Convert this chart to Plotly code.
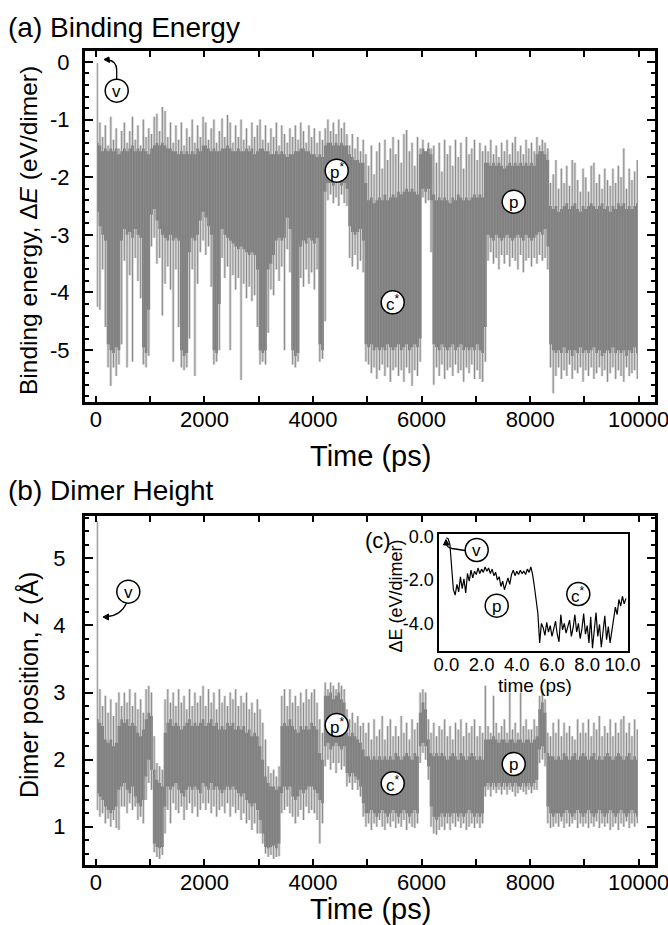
import plotly.graph_objects as go

W, H = 668, 925
FONT = "Liberation Sans, Arial, Helvetica, sans-serif"
TRACE_GRAY = "rgb(128,128,128)"
SPIKE_GRAY = "rgb(140,140,140)"
HAZE_GRAY = "rgba(128,128,128,0.33)"

# Sampling times of the 10 ns run (ps), one envelope value per 50 ps window
T_PS = list(range(25, 10000, 50))

# (a) binding energy, eV/dimer: spike extremes and dense band per window
BE_SPIKE_HI = [
    -0.02, -1.05, -1.30, -1.10, -1.45, -0.95, -1.35, -1.15, -1.50, -1.20,
    -1.05, -1.40, -1.20, -0.95, -1.35, -1.10, -1.45, -1.00, -1.30, -1.15,
    -1.25, -0.95, -0.90, -1.20, -0.78, -0.85, -1.30, -1.05, -1.40, -1.10,
    -1.35, -1.05, -1.45, -1.15, -1.30, -1.00, -1.40, -1.10, -1.30, -0.95,
    -1.05, -1.35, -1.15, -1.00, -1.40, -1.20, -0.98, -1.30, -0.92, -1.05,
    -1.40, -1.10, -1.30, -1.00, -1.35, -1.15, -1.45, -1.05, -1.30, -1.10,
    -1.00, -1.35, -1.10, -1.40, -1.15, -1.30, -1.05, -1.45, -1.10, -1.25,
    -1.40, -1.15, -1.30, -1.10, -1.35, -1.05, -1.20, -1.40, -1.10, -1.30,
    -1.15, -1.40, -1.20, -1.35, -1.15, -1.00, -1.20, -1.05, -1.25, -1.00,
    -1.15, -1.05, -1.25, -1.45, -1.25, -1.50, -1.30, -1.55, -1.35, -1.60,
    -1.80, -1.45, -1.95, -1.55, -1.40, -1.85, -1.35, -1.70, -1.50, -1.30,
    -1.60, -1.35, -1.75, -1.25, -1.18, -1.55, -1.40, -1.80, -1.30, -1.50,
    -1.35, -1.55, -1.40, -1.50, -1.45, -1.75, -1.40, -1.90, -1.35, -1.60,
    -1.45, -1.80, -1.35, -1.65, -1.40, -1.85, -1.30, -1.60, -1.50, -1.35,
    -1.70, -1.40, -1.55, -1.45, -1.55, -1.35, -1.60, -1.45, -1.65, -1.40,
    -1.55, -1.35, -1.60, -1.40, -1.30, -1.55, -1.45, -1.60, -1.35, -1.50,
    -1.40, -1.55, -1.30, -1.45, -1.35, -1.40, -1.50, -2.10, -1.95, -1.70,
    -2.20, -1.85, -2.10, -1.80, -2.15, -1.70, -1.75, -2.05, -2.25, -1.85,
    -2.00, -2.25, -1.80, -1.75, -2.10, -1.95, -2.20, -1.85, -2.05, -2.15,
    -1.85, -2.10, -1.80, -2.00, -1.50, -2.20, -1.85, -2.05, -1.90, -1.70,
]
BE_CORE_HI = [
    -1.40, -1.45, -1.55, -1.50, -1.55, -1.50, -1.55, -1.50, -1.60, -1.55,
    -1.50, -1.55, -1.50, -1.45, -1.55, -1.50, -1.55, -1.50, -1.55, -1.60,
    -1.50, -1.45, -1.40, -1.45, -1.40, -1.45, -1.50, -1.50, -1.55, -1.55,
    -1.60, -1.55, -1.60, -1.55, -1.60, -1.55, -1.60, -1.50, -1.55, -1.45,
    -1.45, -1.50, -1.55, -1.50, -1.55, -1.55, -1.50, -1.50, -1.45, -1.50,
    -1.55, -1.55, -1.50, -1.55, -1.55, -1.50, -1.55, -1.50, -1.60, -1.55,
    -1.50, -1.50, -1.55, -1.55, -1.60, -1.60, -1.55, -1.60, -1.55, -1.60,
    -1.65, -1.60, -1.60, -1.55, -1.55, -1.50, -1.50, -1.55, -1.55, -1.60,
    -1.60, -1.65, -1.60, -1.65, -1.45, -1.40, -1.40, -1.45, -1.40, -1.45,
    -1.40, -1.45, -1.45, -1.60, -1.65, -1.70, -1.70, -1.75, -1.75, -2.10,
    -2.40, -2.35, -2.45, -2.40, -2.35, -2.40, -2.30, -2.40, -2.35, -2.30,
    -2.35, -2.25, -2.30, -2.25, -2.20, -2.25, -2.20, -2.25, -2.30, -1.60,
    -1.50, -1.55, -1.50, -1.60, -2.30, -2.40, -2.35, -2.40, -2.35, -2.40,
    -2.45, -2.35, -2.40, -2.30, -2.35, -2.40, -2.35, -2.40, -2.35, -2.30,
    -2.35, -2.30, -2.35, -1.75, -1.75, -1.80, -1.75, -1.80, -1.75, -1.80,
    -1.85, -1.80, -1.75, -1.80, -1.75, -1.80, -1.75, -1.80, -1.75, -1.80,
    -1.75, -1.80, -1.60, -1.55, -1.55, -1.60, -1.70, -2.50, -2.55, -2.50,
    -2.60, -2.55, -2.50, -2.45, -2.55, -2.50, -2.45, -2.55, -2.60, -2.50,
    -2.55, -2.50, -2.45, -2.50, -2.55, -2.50, -2.45, -2.55, -2.50, -2.60,
    -2.50, -2.55, -2.45, -2.50, -2.45, -2.55, -2.50, -2.55, -2.50, -2.45,
]
BE_CORE_LO = [
    -2.60, -2.85, -3.00, -3.10, -4.90, -5.00, -5.05, -4.95, -5.00, -3.10,
    -2.90, -3.00, -2.95, -3.05, -2.90, -3.00, -3.05, -4.95, -5.05, -4.30,
    -2.65, -2.55, -2.75, -2.90, -3.00, -3.05, -3.10, -3.00, -3.10, -3.05,
    -3.10, -5.00, -5.10, -5.05, -3.30, -3.05, -3.10, -3.00, -2.75, -2.60,
    -2.70, -2.85, -3.00, -5.00, -5.05, -4.20, -2.90, -3.00, -3.05, -3.10,
    -3.15, -3.20, -3.25, -3.20, -3.25, -3.30, -3.35, -3.30, -3.35, -3.60,
    -5.00, -5.05, -5.00, -3.60, -3.50, -3.35, -3.10, -3.05, -3.10, -3.05,
    -2.70, -2.90, -5.00, -5.10, -5.05, -3.20, -3.10, -3.15, -3.05, -3.10,
    -3.15, -3.05, -4.90, -5.00, -2.25, -2.10, -2.10, -2.15, -2.05, -2.10,
    -2.15, -2.10, -2.20, -2.85, -2.95, -3.00, -2.95, -2.90, -3.10, -4.90,
    -4.95, -4.90, -5.00, -4.95, -5.00, -4.95, -5.00, -4.90, -4.95, -5.00,
    -4.95, -4.90, -5.00, -4.95, -4.90, -5.00, -4.95, -4.90, -4.95, -4.80,
    -2.20, -2.25, -2.20, -2.40, -4.90, -4.95, -5.00, -4.90, -4.95, -5.00,
    -4.95, -4.90, -5.00, -4.95, -4.90, -5.00, -4.95, -5.00, -4.95, -5.00,
    -4.90, -5.00, -5.05, -4.60, -3.00, -3.05, -3.10, -3.00, -3.05, -3.10,
    -3.05, -3.00, -3.05, -3.10, -3.05, -3.00, -3.05, -3.10, -3.00, -3.05,
    -3.10, -3.05, -3.00, -2.95, -3.00, -2.90, -3.20, -4.90, -5.00, -5.05,
    -5.00, -5.05, -4.95, -5.05, -5.00, -5.10, -5.00, -5.05, -4.95, -5.05,
    -5.00, -5.05, -5.00, -4.95, -5.05, -5.00, -5.10, -5.05, -5.00, -5.05,
    -4.95, -5.05, -5.00, -5.05, -5.00, -5.10, -5.00, -5.05, -4.95, -5.05,
]
BE_SPIKE_LO = [
    -4.25, -4.30, -3.60, -4.60, -5.30, -5.62, -5.30, -5.45, -5.25, -4.90,
    -3.45, -5.30, -3.70, -5.20, -3.40, -3.80, -4.10, -5.25, -5.30, -5.10,
    -3.20, -3.05, -3.50, -3.40, -4.40, -3.85, -3.55, -3.95, -5.20, -3.60,
    -4.60, -5.30, -5.35, -5.30, -4.80, -3.60, -5.45, -3.85, -3.30, -3.10,
    -3.35, -3.20, -3.90, -5.25, -5.20, -5.00, -3.40, -3.75, -3.55, -5.00,
    -3.70, -3.95, -3.75, -5.52, -3.85, -4.10, -3.90, -4.15, -4.05, -4.60,
    -5.25, -5.20, -5.25, -4.70, -3.95, -4.05, -3.60, -3.80, -3.55, -5.00,
    -3.25, -3.65, -5.25, -5.30, -5.20, -3.75, -3.90, -3.60, -3.85, -3.65,
    -3.95, -3.60, -5.20, -5.15, -4.50, -2.40, -2.30, -2.45, -2.35, -2.50,
    -2.30, -2.45, -2.50, -3.40, -3.55, -3.35, -3.60, -3.45, -3.65, -5.20,
    -5.25, -5.40, -5.30, -5.50, -5.35, -5.25, -5.45, -5.30, -5.55, -5.35,
    -5.30, -5.45, -5.35, -5.55, -5.30, -5.40, -5.62, -5.35, -5.45, -5.20,
    -2.35, -2.45, -2.40, -3.30, -5.60, -5.30, -5.45, -5.25, -5.50, -5.35,
    -5.30, -5.45, -5.25, -5.40, -5.35, -5.55, -5.30, -5.40, -5.25, -5.50,
    -5.35, -5.50, -5.55, -5.20, -3.45, -3.30, -3.50, -3.40, -3.60, -3.35,
    -3.50, -3.35, -3.55, -3.40, -3.45, -3.60, -3.35, -3.65, -3.45, -3.40,
    -3.55, -3.40, -3.50, -3.35, -3.45, -3.40, -3.60, -5.30, -5.75, -5.45,
    -5.30, -5.50, -5.35, -5.45, -5.25, -5.50, -5.35, -5.40, -5.30, -5.55,
    -5.35, -5.45, -5.30, -5.50, -5.40, -5.30, -5.45, -5.35, -5.55, -5.40,
    -5.30, -5.50, -5.35, -5.45, -5.55, -5.30, -5.45, -5.40, -5.35, -5.50,
]

# (b) dimer height z, Angstrom: spike extremes and dense band per window
Z_SPIKE_HI = [
    5.55, 3.05, 2.80, 2.95, 2.70, 2.90, 2.65, 2.85, 3.00, 2.80,
    3.00, 2.85, 3.05, 2.80, 3.00, 2.75, 2.90, 2.70, 3.05, 3.10,
    3.00, 2.35, 1.95, 1.90, 1.85, 2.90, 3.05, 2.85, 3.00, 2.80,
    3.05, 2.85, 2.95, 2.75, 3.05, 2.80, 3.00, 2.85, 2.95, 3.10,
    2.80, 3.05, 2.85, 3.00, 2.75, 3.05, 2.85, 2.95, 2.80, 3.00,
    2.90, 3.05, 2.80, 2.95, 2.85, 3.00, 2.75, 2.85, 2.70, 2.90,
    2.75, 2.55, 2.30, 1.90, 1.80, 1.85, 1.75, 1.90, 2.95, 3.05,
    2.80, 3.05, 2.85, 2.95, 2.80, 3.00, 2.85, 3.05, 2.90, 3.00,
    3.05, 2.85, 2.60, 2.40, 3.15, 3.05, 3.15, 3.10, 3.05, 3.15,
    3.10, 3.05, 2.75, 2.60, 2.70, 2.55, 2.65, 2.50, 2.55, 2.40,
    2.55, 2.30, 2.60, 2.35, 2.45, 2.65, 2.30, 2.50, 2.60, 2.35,
    2.50, 2.35, 2.65, 2.40, 2.55, 2.30, 2.60, 2.45, 2.55, 3.00,
    3.05, 3.00, 2.60, 2.40, 2.55, 2.35, 2.50, 2.45, 2.60, 2.35,
    2.50, 2.30, 2.55, 2.45, 2.60, 2.35, 2.55, 2.40, 2.50, 2.60,
    2.35, 2.50, 2.40, 3.10, 2.50, 2.40, 2.95, 2.55, 2.40, 2.50,
    2.60, 2.40, 3.00, 2.45, 2.55, 2.40, 3.00, 2.50, 2.60, 2.45,
    2.45, 2.60, 2.50, 2.95, 3.05, 2.90, 2.40, 2.35, 2.55, 2.40,
    2.60, 2.35, 2.55, 2.40, 2.50, 2.35, 2.30, 2.60, 2.40, 2.55,
    2.40, 2.60, 2.35, 2.55, 2.45, 2.65, 2.35, 2.50, 2.40, 2.60,
    2.35, 2.55, 2.40, 2.60, 2.65, 2.40, 2.55, 2.35, 2.60, 2.45,
]
Z_CORE_HI = [
    2.60, 2.55, 2.50, 2.30, 2.25, 2.30, 2.20, 2.25, 2.50, 2.60,
    2.55, 2.60, 2.50, 2.55, 2.50, 2.40, 2.35, 2.45, 2.60, 2.70,
    2.65, 1.85, 1.70, 1.65, 1.60, 2.40, 2.55, 2.60, 2.50, 2.55,
    2.50, 2.45, 2.50, 2.55, 2.60, 2.50, 2.55, 2.50, 2.55, 2.60,
    2.50, 2.55, 2.60, 2.50, 2.55, 2.45, 2.50, 2.45, 2.55, 2.50,
    2.55, 2.45, 2.50, 2.45, 2.50, 2.40, 2.45, 2.35, 2.40, 2.35,
    2.20, 2.00, 1.75, 1.65, 1.60, 1.60, 1.55, 1.60, 2.50, 2.55,
    2.50, 2.60, 2.50, 2.45, 2.40, 2.50, 2.45, 2.50, 2.45, 2.55,
    2.50, 2.45, 2.10, 2.00, 2.95, 2.95, 3.00, 2.90, 2.95, 3.00,
    2.90, 2.85, 2.40, 2.35, 2.40, 2.35, 2.30, 2.25, 2.15, 2.05,
    2.05, 2.00, 2.05, 2.00, 2.05, 2.00, 2.05, 2.00, 2.05, 2.00,
    2.10, 2.05, 2.00, 2.05, 2.10, 2.05, 2.00, 2.10, 2.05, 2.70,
    2.85, 2.75, 2.30, 2.10, 2.05, 2.10, 2.05, 2.10, 2.05, 2.00,
    2.05, 2.10, 2.05, 2.00, 2.10, 2.05, 2.00, 2.05, 2.10, 2.05,
    2.00, 2.05, 2.00, 2.30, 2.30, 2.30, 2.35, 2.30, 2.25, 2.30,
    2.30, 2.25, 2.30, 2.30, 2.25, 2.30, 2.30, 2.25, 2.30, 2.30,
    2.25, 2.30, 2.35, 2.75, 2.85, 2.70, 2.10, 2.05, 2.05, 2.00,
    2.05, 2.00, 2.10, 2.05, 2.00, 2.05, 2.10, 2.00, 2.05, 2.10,
    2.05, 2.00, 2.05, 2.10, 2.00, 2.05, 2.00, 2.05, 2.10, 2.05,
    2.00, 2.05, 2.10, 2.05, 2.00, 2.05, 2.10, 2.00, 2.05, 2.00,
]
Z_CORE_LO = [
    1.50, 1.45, 1.40, 1.30, 1.25, 1.20, 1.25, 1.30, 1.55, 1.60,
    1.65, 1.55, 1.50, 1.60, 1.45, 1.35, 1.30, 1.40, 1.75, 2.00,
    1.85, 0.75, 0.70, 0.68, 0.70, 1.30, 1.60, 1.55, 1.60, 1.65,
    1.55, 1.50, 1.45, 1.55, 1.60, 1.55, 1.60, 1.55, 1.50, 1.65,
    1.60, 1.55, 1.65, 1.55, 1.60, 1.55, 1.50, 1.55, 1.60, 1.55,
    1.60, 1.55, 1.50, 1.45, 1.50, 1.40, 1.35, 1.30, 1.35, 1.25,
    1.10, 0.90, 0.70, 0.68, 0.70, 0.72, 0.68, 0.75, 1.50, 1.60,
    1.55, 1.60, 1.45, 1.40, 1.45, 1.55, 1.50, 1.55, 1.60, 1.60,
    1.55, 1.50, 1.40, 1.35, 2.20, 2.25, 2.15, 2.20, 2.25, 2.20,
    2.15, 2.20, 1.80, 1.75, 1.80, 1.75, 1.70, 1.60, 1.35, 1.20,
    1.20, 1.25, 1.20, 1.15, 1.20, 1.25, 1.20, 1.15, 1.20, 1.25,
    1.20, 1.15, 1.20, 1.25, 1.20, 1.15, 1.20, 1.25, 1.20, 2.20,
    2.25, 2.20, 1.90, 1.30, 1.15, 1.10, 1.15, 1.20, 1.15, 1.20,
    1.15, 1.20, 1.20, 1.15, 1.20, 1.15, 1.20, 1.25, 1.20, 1.15,
    1.20, 1.15, 1.20, 1.60, 1.65, 1.60, 1.65, 1.60, 1.65, 1.60,
    1.65, 1.60, 1.65, 1.60, 1.65, 1.60, 1.60, 1.65, 1.60, 1.65,
    1.60, 1.65, 1.70, 2.15, 2.20, 2.10, 1.30, 1.20, 1.15, 1.20,
    1.20, 1.15, 1.20, 1.25, 1.20, 1.15, 1.20, 1.25, 1.20, 1.15,
    1.20, 1.25, 1.20, 1.15, 1.20, 1.25, 1.20, 1.15, 1.20, 1.25,
    1.20, 1.15, 1.20, 1.25, 1.20, 1.15, 1.20, 1.25, 1.20, 1.15,
]
Z_SPIKE_LO = [
    1.25, 1.15, 1.20, 1.05, 1.12, 1.00, 1.10, 0.98, 0.95, 1.30,
    1.30, 1.20, 1.35, 1.25, 1.30, 1.10, 1.15, 1.05, 1.40, 1.65,
    1.55, 0.62, 0.55, 0.52, 0.58, 0.90, 1.25, 1.05, 1.35, 1.25,
    1.20, 1.30, 1.10, 1.25, 1.35, 1.20, 1.30, 1.15, 1.25, 1.35,
    1.25, 1.35, 1.20, 1.30, 1.15, 1.25, 1.30, 1.20, 1.35, 1.15,
    1.30, 1.20, 1.25, 1.10, 1.20, 1.05, 1.10, 0.95, 1.05, 0.90,
    0.90, 0.75, 0.60, 0.55, 0.58, 0.52, 0.55, 0.56, 1.20, 1.25,
    1.30, 1.20, 1.15, 1.05, 1.15, 1.25, 1.10, 1.30, 1.20, 1.25,
    1.20, 1.10, 0.75, 1.05, 1.90, 2.00, 1.85, 1.95, 1.80, 1.95,
    1.85, 1.90, 1.60, 1.65, 1.55, 1.65, 1.55, 1.45, 1.15, 1.00,
    1.05, 0.95, 1.05, 1.00, 1.10, 1.00, 0.95, 1.05, 1.00, 1.08,
    0.98, 1.05, 1.00, 1.10, 0.95, 1.05, 1.00, 0.98, 1.05, 1.95,
    2.10, 2.00, 1.70, 1.00, 0.90, 0.88, 0.95, 1.00, 0.95, 1.05,
    0.95, 1.05, 1.00, 1.08, 0.98, 1.05, 0.95, 1.00, 1.05, 0.98,
    1.05, 0.98, 1.05, 1.45, 1.55, 1.45, 1.55, 1.50, 1.55, 1.48,
    1.55, 1.48, 1.55, 1.52, 1.45, 1.50, 1.55, 1.52, 1.48, 1.55,
    1.50, 1.55, 1.55, 1.95, 2.00, 1.90, 1.05, 0.98, 1.00, 1.05,
    1.00, 1.08, 0.98, 1.05, 1.00, 1.05, 1.10, 0.98, 1.05, 1.00,
    1.05, 0.98, 1.05, 1.00, 1.08, 0.98, 1.05, 1.00, 1.05, 0.95,
    1.00, 1.05, 0.95, 1.05, 1.00, 1.08, 0.98, 1.05, 1.00, 1.05,
]

# (c) first 10 ps of the binding energy
INSET_T = [i / 10 for i in range(103)]
INSET_E = [
    -0.05, -0.10, -0.35, -1.60, -2.45, -2.70, -2.20, -2.55, -1.85, -2.40,
    -1.95, -2.60, -1.70, -2.05, -1.55, -1.90, -1.60, -1.75, -1.45, -1.70,
    -1.50, -1.65, -1.40, -1.60, -1.45, -1.70, -1.50, -1.80, -1.65, -2.00,
    -1.85, -2.30, -2.05, -2.45, -2.10, -1.90, -2.20, -1.75, -1.55, -1.80,
    -1.60, -1.75, -1.55, -1.70, -1.60, -1.75, -1.50, -1.65, -1.40, -1.75,
    -2.30, -2.95, -3.55, -4.90, -4.00, -4.20, -4.55, -3.95, -4.40, -4.10,
    -4.60, -4.25, -3.90, -4.50, -4.85, -3.60, -4.30, -4.00, -4.45, -4.15,
    -3.85, -4.60, -4.20, -3.60, -4.40, -4.00, -4.70, -4.25, -3.55, -4.50,
    -4.10, -4.90, -3.70, -5.15, -4.20, -3.50, -4.60, -4.05, -5.10, -4.30,
    -3.65, -4.75, -4.15, -4.90, -4.35, -3.80, -3.25, -3.60, -2.90, -3.20,
    -2.75, -3.10, -2.85,
]

X_TICKS = [0, 2000, 4000, 6000, 8000, 10000]
BE_TICKS = [-5, -4, -3, -2, -1, 0]
Z_TICKS = [1, 2, 3, 4, 5]
INSET_X_TICKS = [0, 2, 4, 6, 8, 10]
INSET_Y_TICKS = [-4, -2, 0]


def px(x):
    return x / W


def py(y):
    return 1 - y / H


def comb(t, lo, hi):
    xs, ys = [], []
    for ti, a, b in zip(t, lo, hi):
        xs += [ti, ti, None]
        ys += [a, b, None]
    return xs, ys


fig = go.Figure()


def band(xa, ya, upper, lower, color):
    common = dict(xaxis=xa, yaxis=ya, showlegend=False, hoverinfo="skip", mode="lines")
    fig.add_trace(go.Scatter(x=T_PS, y=upper, line=dict(width=0, color=color, shape="hvh"),
                             **common))
    fig.add_trace(go.Scatter(x=T_PS, y=lower, fill="tonexty", fillcolor=color,
                             line=dict(width=0, color=color, shape="hvh"), **common))


def add_trace_panel(xa, ya, top, bot, lo, hi):
    band(xa, ya, hi, lo, HAZE_GRAY)          # sparse excursions
    band(xa, ya, top, bot, TRACE_GRAY)       # dense band
    xs, ys = comb(T_PS, lo, hi)
    fig.add_trace(go.Scatter(x=xs, y=ys, mode="lines", line=dict(width=1, color=SPIKE_GRAY),
                             xaxis=xa, yaxis=ya, showlegend=False, hoverinfo="skip",
                             connectgaps=False))


add_trace_panel("x", "y", BE_CORE_HI, BE_CORE_LO, BE_SPIKE_LO, BE_SPIKE_HI)
add_trace_panel("x2", "y2", Z_CORE_HI, Z_CORE_LO, Z_SPIKE_LO, Z_SPIKE_HI)

fig.add_trace(go.Scatter(x=INSET_T, y=INSET_E, mode="lines", line=dict(width=1.2, color="black"),
                         xaxis="x3", yaxis="y3", showlegend=False, hoverinfo="skip"))

tick_font = dict(size=22, family=FONT, color="black")
frame = dict(showline=True, linewidth=3, linecolor="black", mirror="allticks",
             showgrid=False, zeroline=False, ticks="inside", tickcolor="black")

x_common = dict(frame, range=[-200, 10300], tickmode="array", tickvals=X_TICKS,
                ticktext=[str(v) for v in X_TICKS], ticklen=6, tickwidth=2,
                tickfont=tick_font, ticklabelstandoff=-4, ticklabeloverflow="allow",
                minor=dict(dtick=1000, tick0=0, ticks="inside", ticklen=6, tickwidth=2,
                           tickcolor="black", showgrid=False))

inset_font = dict(size=18, family=FONT, color="black")

fig.update_layout(
    width=W, height=H, autosize=False, margin=dict(l=0, r=0, t=0, b=0, autoexpand=False),
    paper_bgcolor="white", plot_bgcolor="white",
    xaxis=dict(x_common, domain=[px(85), px(655)], anchor="y"),
    yaxis=dict(frame, domain=[py(402), py(51)], anchor="x", range=[-5.9, 0.19],
               tickmode="array", tickvals=BE_TICKS, ticktext=[str(v) for v in BE_TICKS],
               ticklen=8, tickwidth=2, tickfont=tick_font, ticklabelstandoff=8,
               minor=dict(dtick=0.2, tick0=0, ticks="inside", ticklen=4, tickwidth=2,
                          tickcolor="black", showgrid=False)),
    xaxis2=dict(x_common, domain=[px(85), px(655)], anchor="y2"),
    yaxis2=dict(frame, domain=[py(865), py(516)], anchor="x2", range=[0.43, 5.63],
                tickmode="array", tickvals=Z_TICKS, ticktext=[str(v) for v in Z_TICKS],
                ticklen=8, tickwidth=2, tickfont=tick_font, ticklabelstandoff=12,
                minor=dict(dtick=0.2, tick0=0, ticks="inside", ticklen=4, tickwidth=2,
                           tickcolor="black", showgrid=False)),
    xaxis3=dict(domain=[px(439.3), px(627.7)], anchor="y3", range=[-0.4, 10.3],
                showline=True, linewidth=2, linecolor="black", mirror=True,
                showgrid=False, zeroline=False, ticks="",
                tickmode="array", tickvals=INSET_X_TICKS,
                ticktext=["%.1f" % v for v in INSET_X_TICKS],
                tickfont=dict(inset_font, size=18.5), ticklabelstandoff=-4,
                ticklabeloverflow="allow"),
    yaxis3=dict(domain=[py(650.7), py(534)], anchor="x3", range=[-5.26, 0.12],
                showline=True, linewidth=2, linecolor="black", mirror=True,
                showgrid=False, zeroline=False, ticks="",
                tickmode="array", tickvals=INSET_Y_TICKS,
                ticktext=["%.1f" % v for v in INSET_Y_TICKS],
                tickfont=inset_font, ticklabelstandoff=0, ticklabeloverflow="allow"),
)


def label(text, x, y, size, xanchor="center", angle=0):
    return dict(text=text, x=px(x), y=py(y), xref="paper", yref="paper", showarrow=False,
                font=dict(size=size, family=FONT, color="black"),
                xanchor=xanchor, yanchor="middle", textangle=angle)


annotations = [
    label("(a) Binding Energy", 6, 27, 28, xanchor="left"),
    label("(b) Dimer Height", 6, 490, 28, xanchor="left"),
    label("Time (ps)", 370, 456, 29),
    label("Time (ps)", 370, 909, 29),
    label("Binding energy, Δ<i>E</i> (eV/dimer)", 28, 231, 24.5, angle=-90),
    label("Dimer position, <i>z</i> (Å)", 28, 685, 25, angle=-90),
    label("(c)", 378, 540, 22),
    label("ΔE (eV/dimer)", 395.5, 596, 18, angle=-90),
    label("time (ps)", 535, 685, 19),
]

# state markers: (text, centre x, centre y) in page pixels
markers = [
    ("v", 116.7, 90.7), ("p<sup>*</sup>", 336.7, 170.7), ("c<sup>*</sup>", 392.7, 302.3),
    ("p", 513.7, 201.7),
    ("v", 128.3, 591.7), ("p<sup>*</sup>", 336.7, 725.0), ("c<sup>*</sup>", 392.7, 783.3),
    ("p", 513.7, 764.0),
    ("v", 476.7, 550.0), ("p", 496.7, 605.7), ("c<sup>*</sup>", 578.3, 594.0),
]
R = 11.5
shapes = []
for txt, cx, cy in markers:
    shapes.append(dict(type="circle", xref="paper", yref="paper",
                       x0=px(cx - R), x1=px(cx + R), y0=py(cy + R), y1=py(cy - R),
                       line=dict(color="black", width=1.5), fillcolor="white", layer="above"))
    annotations.append(label(txt, cx, cy + 0.5, 17))


def P(x, y):
    return "%.5f,%.5f" % (px(x), py(y))


def curve(path):
    return dict(type="path", xref="paper", yref="paper", path=path,
                line=dict(color="black", width=1.3), layer="above")


def head(tip, b1, b2):
    return dict(type="path", xref="paper", yref="paper",
                path="M %s L %s L %s Z" % (P(*tip), P(*b1), P(*b2)),
                line=dict(color="black", width=1), fillcolor="black", layer="above")


shapes += [
    curve("M %s L %s Q %s %s" % (P(116.7, 79.2), P(116.7, 70), P(116.7, 61), P(108, 60))),
    head((104, 59.5), (109, 57), (109.5, 62.5)),
    curve("M %s Q %s %s" % (P(126.5, 603), P(121, 615.5), P(107, 616.5))),
    head((103, 617), (108.5, 614), (108.5, 620)),
    curve("M %s L %s Q %s %s" % (P(465.2, 550.5), P(452, 548.5), P(447, 547.5), P(446.5, 544))),
    head((446, 539.5), (443.5, 545), (449, 545)),
]

fig.update_layout(annotations=annotations, shapes=shapes)

# page without body margin so the figure sits at the window origin
page_fix = ("document.documentElement.style.margin='0';"
            "document.body.style.margin='0';document.body.style.padding='0';"
            "document.body.style.overflow='hidden';"
            "var gd=document.getElementById('{plot_id}');"
            "Plotly.relayout(gd,{width:668,height:925});")
fig.write_html("out.html", config={"responsive": False}, post_script=page_fix,
               default_width="668px", default_height="925px")
